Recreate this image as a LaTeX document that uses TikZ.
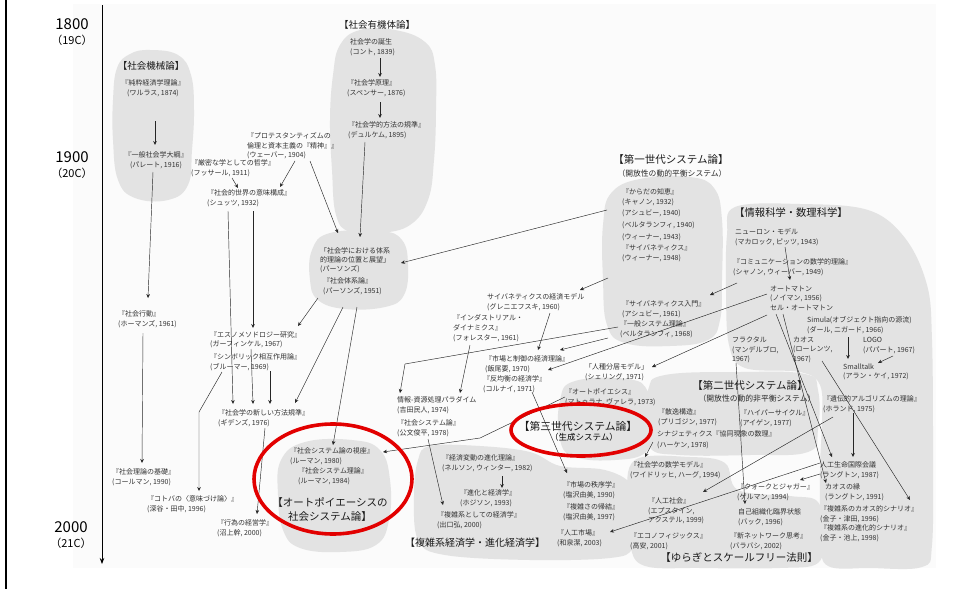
\documentclass[tikz,border=0pt]{standalone}
\usepackage{fontspec}
\newfontfamily\jp{Noto Sans CJK JP}
\usetikzlibrary{arrows.meta}
\definecolor{blobgray}{RGB}{227,227,227}
\definecolor{ringred}{RGB}{226,0,0}
\definecolor{inkgray}{RGB}{50,50,50}
\definecolor{panel}{RGB}{251,251,251}
\tikzset{
  itm/.style={font=\jp\fontsize{7}{9.6}\selectfont, text=inkgray, inner sep=0pt, align=left, anchor=north west},
  itmc/.style={itm, align=center, anchor=north},
  grp/.style={font=\jp\fontsize{10.5}{14}\selectfont, text=black!90, inner sep=0pt, align=center},
  grps/.style={font=\jp\fontsize{9.5}{12}\selectfont, text=black!90, inner sep=0pt},
  subl/.style={font=\jp\fontsize{7.8}{10}\selectfont, text=black!85, inner sep=0pt},
  yr/.style={font=\jp\fontsize{15}{16}\selectfont, inner sep=0pt},
  cent/.style={font=\jp\fontsize{8.5}{10}\selectfont, inner sep=0pt},
  cyr/.style={font=\jp\fontsize{11}{12}\selectfont, inner sep=0pt},
  link/.style={-{Stealth[length=4pt,width=3.6pt]}, line width=0.45pt, draw=black!85},
  blob/.style={fill=blobgray, draw=none},
  ring/.style={draw=ringred, line width=3.6pt},
}
\begin{document}
\begin{tikzpicture}[x=1pt,y=-1pt]
\useasboundingbox (0,0) rectangle (956,589);
\fill[white] (0,0) rectangle (956,589);
\fill[panel] (73,4) rectangle (936,568);
\draw[line width=2.6pt] (6,0) -- (6,589);

% ---- background blobs ----
\fill[blob] plot[smooth cycle, tension=0.7] coordinates {(150,50) (178,55) (191,75) (194,110) (192,150) (188,185) (168,200) (135,198) (118,180) (113,140) (113,100) (117,68) (130,54)};
\fill[blob] plot[smooth cycle, tension=0.7] coordinates {(360,30) (395,30) (425,42) (435,65) (436,110) (434,160) (428,200) (410,225) (380,233) (350,232) (336,215) (332,170) (330,120) (333,75) (340,45)};
\fill[blob] plot[smooth cycle, tension=0.7] coordinates {(330,233) (380,231) (402,240) (408,265) (404,295) (385,307) (345,309) (318,300) (310,280) (312,250)};
\fill[blob] plot[smooth cycle, tension=0.7] coordinates {(645,178) (690,177) (714,188) (722,220) (722,280) (720,320) (708,340) (670,346) (625,343) (607,325) (603,280) (603,225) (612,192)};
\fill[blob] plot[smooth cycle, tension=0.7] coordinates {(575,381) (628,379) (648,392) (652,425) (646,452) (615,460) (575,457) (560,440) (560,400)};
\fill[blob] plot[smooth cycle, tension=0.7] coordinates {(665,375) (740,372) (805,374) (818,390) (818,430) (808,452) (750,455) (680,455) (650,448) (646,420) (648,390)};
\fill[blob] plot[smooth cycle, tension=0.6] coordinates {(735,207) (800,204) (868,210) (905,238) (927,285) (932,340) (933,450) (932,545) (922,567) (870,568) (828,566) (821,540) (820,470) (822,420) (820,385) (800,372) (745,368) (729,345) (726,290) (727,235)};
\fill[blob] plot[smooth cycle, tension=0.6] coordinates {(635,460) (690,457) (725,463) (738,490) (790,496) (818,502) (823,535) (818,563) (780,568) (700,568) (645,566) (630,545) (627,500)};
\fill[blob] plot[smooth cycle, tension=0.6] coordinates {(430,446) (480,446) (530,452) (560,466) (605,470) (632,485) (640,515) (633,548) (610,558) (530,560) (445,555) (418,540) (414,495) (418,460)};
\fill[blob] plot[smooth cycle, tension=0.7] coordinates {(305,442) (352,440) (380,450) (390,480) (389,520) (376,545) (340,552) (300,548) (283,530) (278,495) (281,460)};

% ---- time axis ----
\node[yr] (y1800) at (72,24) {1800};
\node[cyr] (c19) at (72,40) {（19C）};
\node[yr] (y1900) at (72,157) {1900};
\node[cyr] (c20) at (72,173) {（20C）};
\node[yr] (y2000) at (71,527) {2000};
\node[cyr] (c21) at (71,543) {（21C）};
\coordinate (axtop) at (102,5);
\coordinate (axbot) at (102,564);
\draw[line width=0.8pt, -{Stealth[length=6pt,width=4.5pt]}] (axtop) -- (axbot);

% ---- social mechanics / organism ----
\node[grps] (kikai) at (151,66) {【社会機械論】};
\node[itmc] (walras) at (153,79.5) {『純粋経済学理論』\\(ワルラス, 1874)};
\node[itmc] (pareto) at (156,151.5) {『一般社会学大綱』\\(パレート, 1916)};
\node[grps] (yuki) at (377,25) {【社会有機体論】};
\node[itm] (comte) at (350,38.5) {社会学の誕生\\(コント, 1839)};
\node[itm] (spencer) at (347,79.5) {『社会学原理』\\(スペンサー, 1876)};
\node[itm] (durkheim) at (348,121.5) {『社会学的方法の規準』\\(デュルケム, 1895)};
\node[itm] (weber) at (247,132.5) {『プロテスタンティズムの\\倫理と資本主義の『精神』』\\(ウェーバー, 1904)};
\node[itm] (husserl) at (191,159.5) {『厳密な学としての哲学』\\(フッサール, 1911)};
\node[itm] (schutz) at (207,189.5) {『社会的世界の意味構成』\\(シュッツ, 1932)};
\node[itm, font=\jp\fontsize{7}{9}\selectfont] (parsonsA) at (320,247.5) {「社会学における体系\\的理論の位置と展望」\\(パーソンズ)};
\node[itm] (parsonsB) at (323,277.5) {『社会体系論』\\(パーソンズ, 1951)};
\node[itm] (homans) at (118,310.5) {『社会行動』\\(ホーマンズ, 1961)};
\node[itm] (coleman) at (112,468.5) {『社会理論の基礎』\\(コールマン, 1990)};
\node[itm] (ethno) at (210,331) {『エスノメソドロジー研究』\\(ガーフィンケル, 1967)};
\node[itm] (symb) at (210,353.5) {『シンボリック相互作用論』\\(ブルーマー, 1969)};
\node[itm] (giddens) at (218,409.5) {『社会学の新しい方法規準』\\(ギデンズ, 1976)};
\node[itm] (kotoba) at (147,495.5) {『コトバの〈意味づけ論〉』\\(深谷・田中, 1996)};
\node[itm] (action) at (217,519.5) {『行為の経営学』\\(沼上幹, 2000)};
\node[itm] (luhA) at (290,447.5) {『社会システム論の視座』\\(ルーマン, 1980)};
\node[itm] (luhB) at (298,467.5) {『社会システム理論』\\(ルーマン, 1984)};
\node[grp] (luhL) at (330,509) {【オートポイエーシスの\\社会システム論】};

% ---- first generation systems ----
\node[grp] (firstL) at (671,160) {【第一世代システム論】};
\node[subl] (firstS) at (672,174) {（開放性の動的平衡システム）};
\node[itm] (cannon) at (622,188.5) {『からだの知恵』\\(キャノン, 1932)};
\node[itm] (ashby40) at (622,209.5) {(アシュビー, 1940)};
\node[itm] (berta40) at (622,221.5) {(ベルタランフィ, 1940)};
\node[itm] (wiener43) at (622,233.5) {(ウィーナー, 1943)};
\node[itm] (wiener48) at (622,244.5) {『サイバネティクス』\\(ウィーナー, 1948)};
\node[itm] (ashby61) at (622,300.5) {『サイバネティクス入門』\\(アシュビー, 1961)};
\node[itm] (berta68) at (620,320.5) {『一般システム理論』\\(ベルタランフィ, 1968)};

% ---- economics ----
\node[itm] (econmodel) at (487,293.5) {サイバネティクスの経済モデル\\(グレニエフスキ, 1960)};
\node[itm, font=\jp\fontsize{7}{10}\selectfont] (forrester) at (453,314.5) {『インダストリアル・\\ダイナミクス』\\(フォレスター, 1961)};
\node[itm] (iio) at (485,355.5) {『市場と制御の経済理論』\\(飯尾要, 1970)};
\node[itm] (kornai) at (483,375.5) {『反均衡の経済学』\\(コルナイ, 1971)};
\node[itm] (schelling) at (585,363.5) {「人種分居モデル」\\(シェリング, 1971)};
\node[itm] (yoshida) at (397,396.5) {情報-資源処理パラダイム\\(吉田民人, 1974)};
\node[itm] (kumon) at (397,419.5) {『社会システム論』\\(公文俊平, 1978)};
\node[itm] (autop) at (565,388.5) {『オートポイエシス』\\(マトゥラナ, ヴァレラ, 1973)};
\node[grp, font=\jp\fontsize{10.8}{13}\selectfont] (thirdL) at (578,426) {【第三世代システム論】};
\node[cent] (thirdS) at (584,437) {（生成システム）};
\node[itm] (nelson) at (442,454.5) {『経済変動の進化理論』\\(ネルソン, ウィンター, 1982)};
\node[itm] (hodgson) at (460,489.5) {『進化と経済学』\\(ホジソン, 1993)};
\node[itm] (deguchi) at (437,511.5) {『複雑系としての経済学』\\(出口弘, 2000)};
\node[grp, font=\jp\fontsize{10}{12}\selectfont] (econL) at (475,543) {【複雑系経済学・進化経済学】};
\node[itm] (shioA) at (563,481.5) {『市場の秩序学』\\(塩沢由美, 1990)};
\node[itm] (shioB) at (563,503.5) {『複雑さの帰結』\\(塩沢由美, 1997)};
\node[itm] (izumi) at (557,529.5) {『人工市場』\\(和泉潔, 2003)};

% ---- second generation systems ----
\node[grp] (secondL) at (750,386) {【第二世代システム論】};
\node[subl] (secondS) at (757,399) {（開放性の動的非平衡システム）};
\node[itm] (prig) at (658,408.5) {『散逸構造』\\(プリゴジン, 1977)};
\node[itm] (eigen) at (740,409.5) {『ハイパーサイクル』\\(アイゲン, 1977)};
\node[itm, font=\jp\fontsize{7}{10.8}\selectfont] (haken) at (657,430.5) {シナジェティクス『協同現象の数理』\\(ハーケン, 1978)};
\node[itm] (weid) at (630,461.5) {『社会学の数学モデル』\\(ワイドリッヒ, ハーグ, 1994)};
\node[itm] (epstein) at (648,497.5) {『人工社会』\\(エプスタイン,\\アクステル, 1999)};
\node[itm] (takayasu) at (630,532.5) {『エコノフィジックス』\\(高安, 2001)};

% ---- information / mathematical sciences ----
\node[grp, font=\jp\fontsize{10.3}{12}\selectfont] (infoL) at (791,213) {【情報科学・数理科学】};
\node[itm] (neuron) at (735,228.5) {ニューロン・モデル\\(マカロック, ピッツ, 1943)};
\node[itm] (shannon) at (733,258.5) {『コミュニケーションの数学的理論』\\(シャノン, ウィーバー, 1949)};
\node[itm] (autom) at (770,285.5) {オートマトン\\(ノイマン, 1956)\\セル・オートマトン};
\node[itm] (simula) at (807,316.5) {Simula(オブジェクト指向の源流)\\(ダール, ニガード, 1966)};
\node[itm] (logo) at (863,337.5) {LOGO\\(パパート, 1967)};
\node[itm] (smalltalk) at (843,363.5) {Smalltalk\\(アラン・ケイ, 1972)};
\node[itm] (fractal) at (732,336.5) {フラクタル\\(マンデルブロ,\\1967)};
\node[itm] (chaos) at (793,336.5) {カオス\\(ローレンツ,\\1967)};
\node[itm] (holland) at (823,395.5) {『遺伝的アルゴリズムの理論』\\(ホランド, 1975)};
\node[itm] (alife) at (820,461.5) {人工生命国際会議\\(ラングトン, 1987)};
\node[itm] (edge) at (825,483.5) {カオスの縁\\(ラングトン, 1991)};
\node[itm] (kanekoA) at (820,505.5) {『複雑系のカオス的シナリオ』\\(金子・津田, 1996)};
\node[itm] (kanekoB) at (820,524.5) {『複雑系の進化的シナリオ』\\(金子・池上, 1998)};
\node[itm] (gell) at (737,483.5) {『クォークとジャガー』\\(ゲルマン, 1994)};
\node[itm] (bak) at (738,508.5) {自己組織化臨界状態\\(バック, 1996)};
\node[itm] (barabasi) at (730,532.5) {『新ネットワーク思考』\\(バラバシ, 2002)};
\node[grp] (yuragiL) at (739,558) {【ゆらぎとスケールフリー法則】};

% ---- connectors: sociology ----
\draw[link] ([shift={(2,41.5)}]walras.north) -- ([shift={(-1,-6.5)}]pareto.north);
\draw[link] ([shift={(-3,20.5)}]pareto.north) -- ([shift={(30,-12.5)}]homans.north west);
\draw[link] ([shift={(25,22.5)}]homans.north west) -- ([shift={(30,-5.5)}]coleman.north west);
\draw[link] ([shift={(30,19.5)}]comte.north west) -- ([shift={(33,-2.5)}]spencer.north west);
\draw[link] ([shift={(33,22.5)}]spencer.north west) -- ([shift={(32,-3.5)}]durkheim.north west);
\draw[link] ([shift={(17,20.5)}]durkheim.north west) -- ([shift={(40,-10.5)}]parsonsA.north west);
\draw[link] ([shift={(63,28.5)}]weber.north west) -- ([shift={(18,-14.5)}]parsonsA.north west);
\draw[link] ([shift={(48,28.5)}]weber.north west) -- ([shift={(73,-2.5)}]schutz.north west);
\draw[link] ([shift={(41,18.5)}]husserl.north west) -- ([shift={(31,-1.5)}]schutz.north west);
\draw[link] ([shift={(46,21.5)}]schutz.north west) -- ([shift={(43,-3)}]ethno.north west);
\draw[link] ([shift={(21,21.5)}]schutz.north west) -- ([shift={(15,-5.5)}]giddens.north west);
\draw[link] ([shift={(-5,20.5)}]parsonsB.north west) -- ([shift={(88,-5)}]ethno.north west);
\draw[link] ([shift={(20,29.5)}]parsonsB.north west) -- ([shift={(77,-6.5)}]giddens.north west);
\draw[link] ([shift={(34,29.5)}]parsonsB.north west) -- ([shift={(43,-2.5)}]luhA.north west);
\draw[link] ([shift={(41,18)}]ethno.north west) -- ([shift={(35,-5.5)}]giddens.north west);
\draw[link] ([shift={(60,17.5)}]symb.north west) -- ([shift={(52,-5.5)}]giddens.north west);
\draw[link] ([shift={(12,18.5)}]symb.north west) -- ([shift={(52,-83.5)}]kotoba.north west) -- ([shift={(52,-4.5)}]kotoba.north west);
\draw[link] ([shift={(47,18.5)}]giddens.north west) -- ([shift={(40,-5.5)}]action.north west);

% ---- connectors: systems theory and economics ----
\draw[link] ([shift={(-15,0.5)}]ashby40.north west) -- ([shift={(81,15.5)}]parsonsA.north west);
\draw[link] ([shift={(-14,33.5)}]wiener48.north west) -- ([shift={(93,-3.5)}]econmodel.north west);
\draw[link] ([shift={(63,19.5)}]econmodel.north west) -- ([shift={(53,-5.5)}]iio.north west);
\draw[link] ([shift={(-12,17.5)}]berta68.north west) -- ([shift={(75,-5.5)}]iio.north west);
\draw[link] ([shift={(-2,6.5)}]berta68.north west) -- ([shift={(8,-32.5)}]yoshida.north west) -- ([shift={(3,-3.5)}]yoshida.north west);
\draw[link] ([shift={(17,30.5)}]forrester.north west) -- ([shift={(63,-3.5)}]yoshida.north west);
\draw[link] ([shift={(49,16.5)}]kornai.north west) -- ([shift={(4,-8.5)}]shioA.north west);
\draw[link] ([shift={(0,8.5)}]autop.north west) -- ([shift={(190,-9.5)}]luhA.north west) -- ([shift={(93,4.5)}]luhA.north west);
\draw[link] ([shift={(31,19.5)}]kumon.north west) -- ([shift={(6,-6.5)}]deguchi.north west);
\draw[link] ([shift={(60,21.5)}]nelson.north west) -- ([shift={(42,-1.5)}]hodgson.north west);
\draw[link] ([shift={(-4,11.5)}]haken.north west) -- ([shift={(15,-4.5)}]weid.north west);

% ---- connectors: information sciences ----
\draw[link] ([shift={(4,24.5)}]shannon.north west) -- ([shift={(88,-5.5)}]ashby61.north west);
\draw[link] ([shift={(50,18.5)}]neuron.north west) -- ([shift={(20,-5.5)}]autom.north west);
\draw[link] ([shift={(-3,29.5)}]autom.north west) -- ([shift={(67,3.5)}]schelling.north west);
\draw[link] ([shift={(-3,8.5)}]autom.north west) -- ([shift={(65,-5.5)}]kornai.north west);
\draw[link] ([shift={(6,28.5)}]autom.north west) -- ([shift={(12,-4.5)}]alife.north west);
\draw[link] ([shift={(13,28.5)}]autom.north west) -- ([shift={(1,-0.5)}]edge.north west);
\draw[link] ([shift={(29,24.5)}]chaos.north west) -- ([shift={(90,-5.5)}]kanekoA.north west);
\draw[link] ([shift={(4,26.5)}]fractal.north west) -- ([shift={(7,-4.5)}]bak.north west);
\draw[link] ([shift={(30,17.5)}]holland.north west) -- ([shift={(33,-4.5)}]alife.north west);
\draw[link] ([shift={(10,21.5)}]holland.north west) -- ([shift={(55,-5.5)}]epstein.north west);
\draw[link] ([shift={(0,1.5)}]alife.north west) -- ([shift={(53,2.5)}]izumi.north west);
\draw[link] ([shift={(0,12.5)}]alife.north west) -- ([shift={(63,-3.5)}]gell.north west);
\draw[link] ([shift={(41,20.5)}]simula.north west) -- ([shift={(5,-4.5)}]smalltalk.north west);
\draw[link] ([shift={(30,18.5)}]logo.north west) -- ([shift={(35,-0.5)}]smalltalk.north west);

% ---- highlight rings ----
\draw[ring] (333,479) ellipse [x radius=79pt, y radius=55pt];
\draw[ring] (581,430) ellipse [x radius=70pt, y radius=26pt];
\end{tikzpicture}
\end{document}
